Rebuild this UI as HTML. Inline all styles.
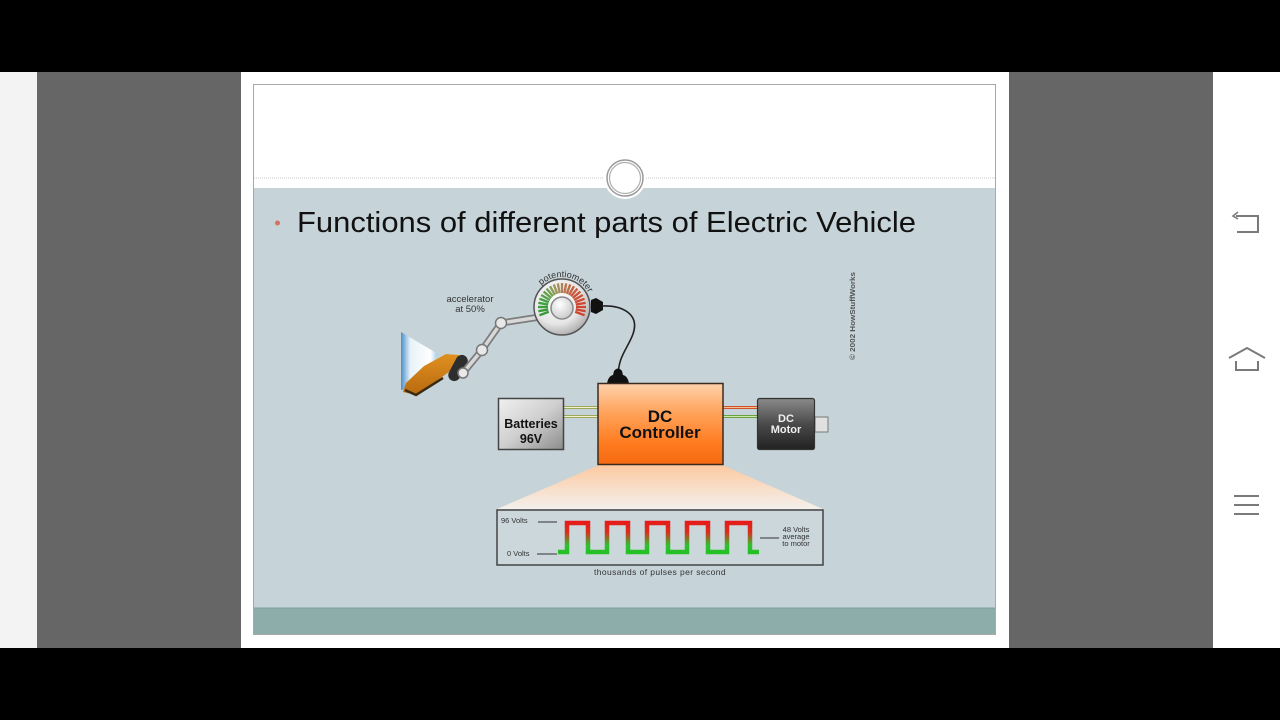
<!DOCTYPE html>
<html><head><meta charset="utf-8"><style>
html,body{margin:0;padding:0;background:#000;}
svg{display:block;}
</style></head><body>
<svg width="1280" height="720" viewBox="0 0 1280 720" xmlns="http://www.w3.org/2000/svg" font-family="Liberation Sans, Arial, sans-serif">
<defs>
<linearGradient id="ctrl" x1="0" y1="0" x2="0" y2="1">
<stop offset="0" stop-color="#ffd2ac"/><stop offset="0.35" stop-color="#ffa45c"/><stop offset="0.75" stop-color="#ff7a1e"/><stop offset="1" stop-color="#f56a10"/></linearGradient>
<linearGradient id="batt" x1="0" y1="0" x2="1" y2="1">
<stop offset="0" stop-color="#f0f0f0"/><stop offset="0.5" stop-color="#cfcfcf"/><stop offset="1" stop-color="#8c8c8c"/></linearGradient>
<linearGradient id="mot" x1="0" y1="0" x2="0" y2="1">
<stop offset="0" stop-color="#8a8a8a"/><stop offset="0.5" stop-color="#4a4a4a"/><stop offset="1" stop-color="#222"/></linearGradient>
<linearGradient id="beam" x1="0" y1="0" x2="0" y2="1">
<stop offset="0" stop-color="#fcc9a0"/><stop offset="1" stop-color="#f4f0ec"/></linearGradient>
<linearGradient id="wave" gradientUnits="userSpaceOnUse" x1="0" y1="520" x2="0" y2="556">
<stop offset="0" stop-color="#e81818"/><stop offset="0.35" stop-color="#d83020"/><stop offset="0.7" stop-color="#30c030"/><stop offset="1" stop-color="#20c020"/></linearGradient>
<radialGradient id="pot" cx="0.4" cy="0.35" r="0.75">
<stop offset="0" stop-color="#ffffff"/><stop offset="0.6" stop-color="#e6e6e6"/><stop offset="1" stop-color="#9a9a9a"/></radialGradient>
<radialGradient id="knob" cx="0.4" cy="0.35" r="0.7">
<stop offset="0" stop-color="#ffffff"/><stop offset="1" stop-color="#c8c8c8"/></radialGradient>
<linearGradient id="leg" x1="0" y1="0" x2="1" y2="0">
<stop offset="0" stop-color="#4a90c8"/><stop offset="0.25" stop-color="#e8f2fa"/><stop offset="0.8" stop-color="#ffffff"/><stop offset="1" stop-color="#9cc8e8"/></linearGradient>
<linearGradient id="shoe" x1="0" y1="0" x2="0" y2="1">
<stop offset="0" stop-color="#e09020"/><stop offset="1" stop-color="#b86a10"/></linearGradient>
<path id="potarc" d="M532,307 A30 30 0 0 1 592,307"/>
</defs>

<!-- frame -->
<rect x="0" y="0" width="1280" height="720" fill="#000"/>
<rect x="0" y="72" width="37" height="576" fill="#f3f3f3"/>
<rect x="37" y="72" width="204" height="576" fill="#666666"/>
<rect x="241" y="72" width="768" height="576" fill="#ffffff"/>
<rect x="1009" y="72" width="204" height="576" fill="#666666"/>
<rect x="1213" y="72" width="67" height="576" fill="#ffffff"/>

<!-- right icons -->
<g stroke="#7a7a7a" stroke-width="2" fill="none">
<path d="M1236,216 L1258,216 L1258,232 L1237,232"/>
<path d="M1238,212 L1233,216 L1238,219" stroke-width="1.6"/>
<path d="M1229,358 L1247,348 L1265,358"/>
<path d="M1236,361 L1236,370 L1258,370 L1258,361"/>
<path d="M1234,496 L1259,496 M1234,505 L1259,505 M1234,514 L1259,514"/>
</g>

<!-- slide -->
<rect x="253.5" y="84.5" width="742" height="550" fill="#ffffff" stroke="#a8a8a8"/>
<rect x="254" y="188" width="741" height="420" fill="#c6d4d9"/>
<rect x="254" y="608" width="741" height="26" fill="#8dadaa"/>
<line x1="254" y1="608" x2="995" y2="608" stroke="#7f9f9c"/>
<line x1="254" y1="178" x2="995" y2="178" stroke="#c8c8c8" stroke-dasharray="1,1"/>
<circle cx="625" cy="178" r="21" fill="#ffffff"/>
<circle cx="625" cy="178" r="18" fill="#ffffff" stroke="#9a9a9a" stroke-width="1.5"/>
<circle cx="625" cy="178" r="15.5" fill="#ffffff" stroke="#b0b0b0" stroke-width="1.2"/>

<!-- title -->
<circle cx="277.5" cy="223" r="2.5" fill="#d4735e"/>
<text x="297" y="232" font-size="29" fill="#111" textLength="619" lengthAdjust="spacingAndGlyphs">Functions of different parts of Electric Vehicle</text>

<!-- copyright -->
<text transform="translate(855,316) rotate(-90)" font-size="7" font-weight="bold" fill="#555" text-anchor="middle" textLength="88" lengthAdjust="spacingAndGlyphs">© 2002 HowStuffWorks</text>

<!-- accelerator label -->
<text x="470" y="302" font-size="9.5" fill="#333" text-anchor="middle">accelerator</text>
<text x="470" y="312" font-size="9.5" fill="#333" text-anchor="middle">at 50%</text>

<!-- leg and shoe -->
<polygon points="401,332 438,354 430,370 414,388 401,390" fill="url(#leg)"/>
<polygon points="403,392 406,383 424,366 446,354 459,355 461,363 442,377 416,395" fill="url(#shoe)"/>
<path d="M405,390 L416,395 L443,378" stroke="#3a2a10" stroke-width="2.5" fill="none"/>
<!-- pedal -->
<rect x="444" y="362" width="28" height="12" rx="6" fill="#2e2e2e" transform="rotate(-62 458 368)"/>
<!-- linkage -->
<g stroke="#7d7d7d" stroke-width="7" stroke-linecap="round" fill="none">
<path d="M463,373 L482,350 L501,323 L540,317"/>
</g>
<g stroke="#d8d8d8" stroke-width="3.5" stroke-linecap="round" fill="none">
<path d="M463,373 L482,350 L501,323 L540,317"/>
</g>
<g fill="#e8e8e8" stroke="#777" stroke-width="1.5">
<circle cx="463" cy="373" r="5"/>
<circle cx="482" cy="350" r="5.5"/>
<circle cx="501" cy="323" r="5.5"/>
</g>

<!-- potentiometer -->
<circle cx="562" cy="307" r="28" fill="url(#pot)" stroke="#555" stroke-width="1.5"/>
<g stroke-width="2.4" stroke-linecap="butt">
<line x1="0" y1="-14" x2="0" y2="-24" transform="translate(562,307) rotate(-110)" stroke="#3a9a3a"/>
<line x1="0" y1="-14" x2="0" y2="-24" transform="translate(562,307) rotate(-100)" stroke="#3a9a3a"/>
<line x1="0" y1="-14" x2="0" y2="-24" transform="translate(562,307) rotate(-90)" stroke="#3ca03c"/>
<line x1="0" y1="-14" x2="0" y2="-24" transform="translate(562,307) rotate(-80)" stroke="#40a040"/>
<line x1="0" y1="-14" x2="0" y2="-24" transform="translate(562,307) rotate(-70)" stroke="#48a044"/>
<line x1="0" y1="-14" x2="0" y2="-24" transform="translate(562,307) rotate(-60)" stroke="#55a048"/>
<line x1="0" y1="-14" x2="0" y2="-24" transform="translate(562,307) rotate(-50)" stroke="#62a04c"/>
<line x1="0" y1="-14" x2="0" y2="-24" transform="translate(562,307) rotate(-40)" stroke="#74a050"/>
<line x1="0" y1="-14" x2="0" y2="-24" transform="translate(562,307) rotate(-30)" stroke="#8a9e58"/>
<line x1="0" y1="-14" x2="0" y2="-24" transform="translate(562,307) rotate(-20)" stroke="#9c9860"/>
<line x1="0" y1="-14" x2="0" y2="-24" transform="translate(562,307) rotate(-10)" stroke="#a89060"/>
<line x1="0" y1="-14" x2="0" y2="-24" transform="translate(562,307) rotate(0)" stroke="#b08458"/>
<line x1="0" y1="-14" x2="0" y2="-24" transform="translate(562,307) rotate(10)" stroke="#b87850"/>
<line x1="0" y1="-14" x2="0" y2="-24" transform="translate(562,307) rotate(20)" stroke="#c06c48"/>
<line x1="0" y1="-14" x2="0" y2="-24" transform="translate(562,307) rotate(30)" stroke="#c66244"/>
<line x1="0" y1="-14" x2="0" y2="-24" transform="translate(562,307) rotate(40)" stroke="#ca5a40"/>
<line x1="0" y1="-14" x2="0" y2="-24" transform="translate(562,307) rotate(50)" stroke="#cc553c"/>
<line x1="0" y1="-14" x2="0" y2="-24" transform="translate(562,307) rotate(60)" stroke="#cc5038"/>
<line x1="0" y1="-14" x2="0" y2="-24" transform="translate(562,307) rotate(70)" stroke="#cc4c36"/>
<line x1="0" y1="-14" x2="0" y2="-24" transform="translate(562,307) rotate(80)" stroke="#cc4a34"/>
<line x1="0" y1="-14" x2="0" y2="-24" transform="translate(562,307) rotate(90)" stroke="#cc4834"/>
<line x1="0" y1="-14" x2="0" y2="-24" transform="translate(562,307) rotate(100)" stroke="#cc4834"/>
<line x1="0" y1="-14" x2="0" y2="-24" transform="translate(562,307) rotate(110)" stroke="#cc4834"/>
</g>
<circle cx="562" cy="308" r="11" fill="url(#knob)" stroke="#888" stroke-width="1.5"/>
<text font-size="9" fill="#333"><textPath href="#potarc" startOffset="55%" text-anchor="middle">potentiometer</textPath></text>
<!-- connector & cable -->
<path d="M591,300 L596,298 L603,302 L603,310 L596,314 L591,312 Z" fill="#111"/>
<path d="M602,306 C622,305 640,314 633,334 C627,350 618,356 618,378" stroke="#222" stroke-width="1.6" fill="none"/>
<path d="M607,384 Q608,376 613,375 L614,371 Q618,366 622,371 L623,375 Q628,376 629,384 Z" fill="#111"/>

<!-- wires -->
<line x1="563" y1="407.5" x2="598" y2="407.5" stroke="#9aa858" stroke-width="3"/>
<line x1="563" y1="407.5" x2="598" y2="407.5" stroke="#f2f0d0" stroke-width="1"/>
<line x1="563" y1="416.5" x2="598" y2="416.5" stroke="#9aa858" stroke-width="3"/>
<line x1="563" y1="416.5" x2="598" y2="416.5" stroke="#f2f0d0" stroke-width="1"/>
<line x1="723" y1="407.5" x2="757" y2="407.5" stroke="#d0502a" stroke-width="3"/>
<line x1="723" y1="407.5" x2="757" y2="407.5" stroke="#f0c090" stroke-width="1"/>
<line x1="723" y1="416.5" x2="757" y2="416.5" stroke="#6aa040" stroke-width="3"/>
<line x1="723" y1="416.5" x2="757" y2="416.5" stroke="#d0e8b0" stroke-width="1"/>

<!-- batteries -->
<rect x="498.5" y="398.5" width="65" height="51" fill="url(#batt)" stroke="#444" stroke-width="1.5"/>
<text x="531" y="428" font-size="12.5" font-weight="bold" fill="#111" text-anchor="middle">Batteries</text>
<text x="531" y="443" font-size="12.5" font-weight="bold" fill="#111" text-anchor="middle">96V</text>

<!-- beam -->
<polygon points="599,465 722,465 823,509 497,509" fill="url(#beam)"/>

<!-- controller -->
<rect x="598" y="383.5" width="125" height="81" fill="url(#ctrl)" stroke="#3a2a20" stroke-width="1.5"/>
<text x="660" y="422" font-size="17" font-weight="bold" fill="#111" text-anchor="middle">DC</text>
<text x="660" y="438" font-size="17" font-weight="bold" fill="#111" text-anchor="middle">Controller</text>

<!-- motor -->
<rect x="815" y="417" width="13" height="15" fill="#e0e0e0" stroke="#777"/>
<rect x="757.5" y="398.5" width="57" height="51" rx="2" fill="url(#mot)" stroke="#333" stroke-width="1.2"/>
<text x="786" y="422" font-size="11" font-weight="bold" fill="#f0f0f0" text-anchor="middle">DC</text>
<text x="786" y="433" font-size="11" font-weight="bold" fill="#f0f0f0" text-anchor="middle">Motor</text>

<!-- waveform box -->
<rect x="497" y="510" width="326" height="55" fill="#cbd7db" stroke="#444" stroke-width="1.5"/>
<text x="501" y="523" font-size="7.5" fill="#333">96 Volts</text>
<line x1="538" y1="522" x2="557" y2="522" stroke="#333" stroke-width="1"/>
<text x="507" y="556" font-size="7.5" fill="#333">0 Volts</text>
<line x1="537" y1="554" x2="557" y2="554" stroke="#333" stroke-width="1"/>
<path d="M558,552 L567,552 L567,523 L588,523 L588,552 L607,552 L607,523 L628,523 L628,552 L647,552 L647,523 L668,523 L668,552 L687,552 L687,523 L708,523 L708,552 L727,552 L727,523 L750,523 L750,552 L759,552" fill="none" stroke="url(#wave)" stroke-width="4.5"/>
<line x1="760" y1="538" x2="779" y2="538" stroke="#333" stroke-width="1"/>
<text x="796" y="532" font-size="7.5" fill="#333" text-anchor="middle">48 Volts</text>
<text x="796" y="539" font-size="7.5" fill="#333" text-anchor="middle">average</text>
<text x="796" y="546" font-size="7.5" fill="#333" text-anchor="middle">to motor</text>
<text x="660" y="575" font-size="8.5" fill="#333" text-anchor="middle" letter-spacing="0.4">thousands of pulses per second</text>
</svg>
</body></html>
